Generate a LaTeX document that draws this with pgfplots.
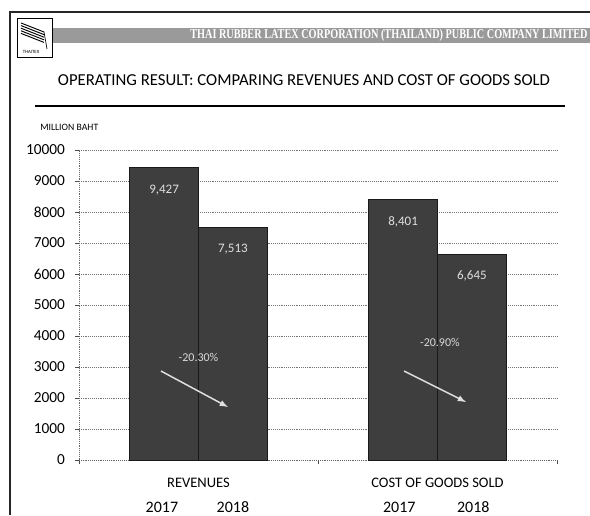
\documentclass[border=0pt]{standalone}
\usepackage{pgfplots}
\pgfplotsset{compat=1.18}
\usepackage{fontspec}
\setmainfont{Carlito}
\newfontfamily\headserif{Liberation Serif}
\definecolor{barfill}{HTML}{3E3E3E}
\definecolor{bandgray}{HTML}{9A9A9A}
\begin{document}
\begin{tikzpicture}[x=0.75pt,y=0.75pt]
\useasboundingbox (0,0) rectangle (590,515);
% frame
\draw[line width=1.1pt, black!85] (10,0) -- (10,503) -- (590,503);
% header band
\fill[bandgray] (53,472) rectangle (590,487);
\node[white] at (389,479.5) {\resizebox{298pt}{7pt}{\headserif\bfseries THAI RUBBER LATEX CORPORATION (THAILAND) PUBLIC COMPANY LIMITED}};
% logo
\draw[line width=0.6pt] (17,458) rectangle (52,497);
\foreach \i in {0,...,4} \draw[line width=0.7pt] (21,492-\i*2.6) -- (44,483-\i*2.6);
\draw[line width=0.5pt] (44,483) -- (47,466);
\node[font=\fontsize{3.6}{4}\selectfont] at (31,463) {THAITEX};
% title
\node at (304,435) {\resizebox{369pt}{!}{OPERATING RESULT: COMPARING REVENUES AND COST OF GOODS SOLD}};
\draw[line width=0.9pt] (35,409) -- (565,409);
\node[anchor=west, inner sep=0pt, font=\fontsize{7.3}{8}\selectfont] at (40,388) {MILLION BAHT};

\begin{axis}[
    at={(59.25pt,41.25pt)}, anchor=south west,
    scale only axis, width=358.5pt, height=232.5pt,
    xmin=-0.5, xmax=1.5, ymin=0, ymax=10000,
    ybar=0pt, bar width=0.288,
    axis x line*=bottom, axis y line*=left,
    axis line style={black!60, densely dotted},
    /pgf/number format/assume math mode=true,
    ytick={0,1000,...,10000}, scaled y ticks=false,
    yticklabel style={/pgf/number format/1000 sep={}, font=\fontsize{11.5}{12}\selectfont, xshift=-4pt},
    ymajorgrids, grid style={black!55, densely dotted},
    xtick={-0.5,0.5,1.5}, xticklabels={},
    extra x ticks={0,1},
    extra x tick labels={REVENUES, COST OF GOODS SOLD},
    extra x tick style={major tick length=0pt, grid=none,
        tick label style={anchor=center, yshift=-17.25pt, font=\fontsize{10.9}{12}\selectfont}},
    tick align=outside, major tick length=3pt,
    tick style={black!70, solid},
    nodes near coords,
    every node near coord/.append style={anchor=center, yshift=-16.5pt,
        text=white!88!black, font=\fontsize{9.75}{10}\selectfont},
    clip=false,
]
\addplot[fill=barfill, draw=black!90] coordinates {(0,9427) (1,8401)};
\addplot[fill=barfill, draw=black!90] coordinates {(0,7513) (1,6645)};

\draw[->, >=latex, line width=1.1pt, black!12] (axis cs:-0.157,2870) -- (axis cs:0.123,1710);
\draw[->, >=latex, line width=1.1pt, black!12] (axis cs:0.860,2870) -- (axis cs:1.119,1870);
\node[text=white!85!black, font=\fontsize{9}{10}\selectfont] at (axis cs:0.0,3320) {-20.30\%};
\node[text=white!85!black, font=\fontsize{9}{10}\selectfont] at (axis cs:1.01,3800) {-20.90\%};

\node[font=\fontsize{12}{13}\selectfont] at ([yshift=-35.25pt]axis cs:-0.153,0) {2017};
\node[font=\fontsize{12}{13}\selectfont] at ([yshift=-35.25pt]axis cs:0.144,0) {2018};
\node[font=\fontsize{12}{13}\selectfont] at ([yshift=-35.25pt]axis cs:0.84,0) {2017};
\node[font=\fontsize{12}{13}\selectfont] at ([yshift=-35.25pt]axis cs:1.15,0) {2018};
\end{axis}
\end{tikzpicture}
\end{document}
